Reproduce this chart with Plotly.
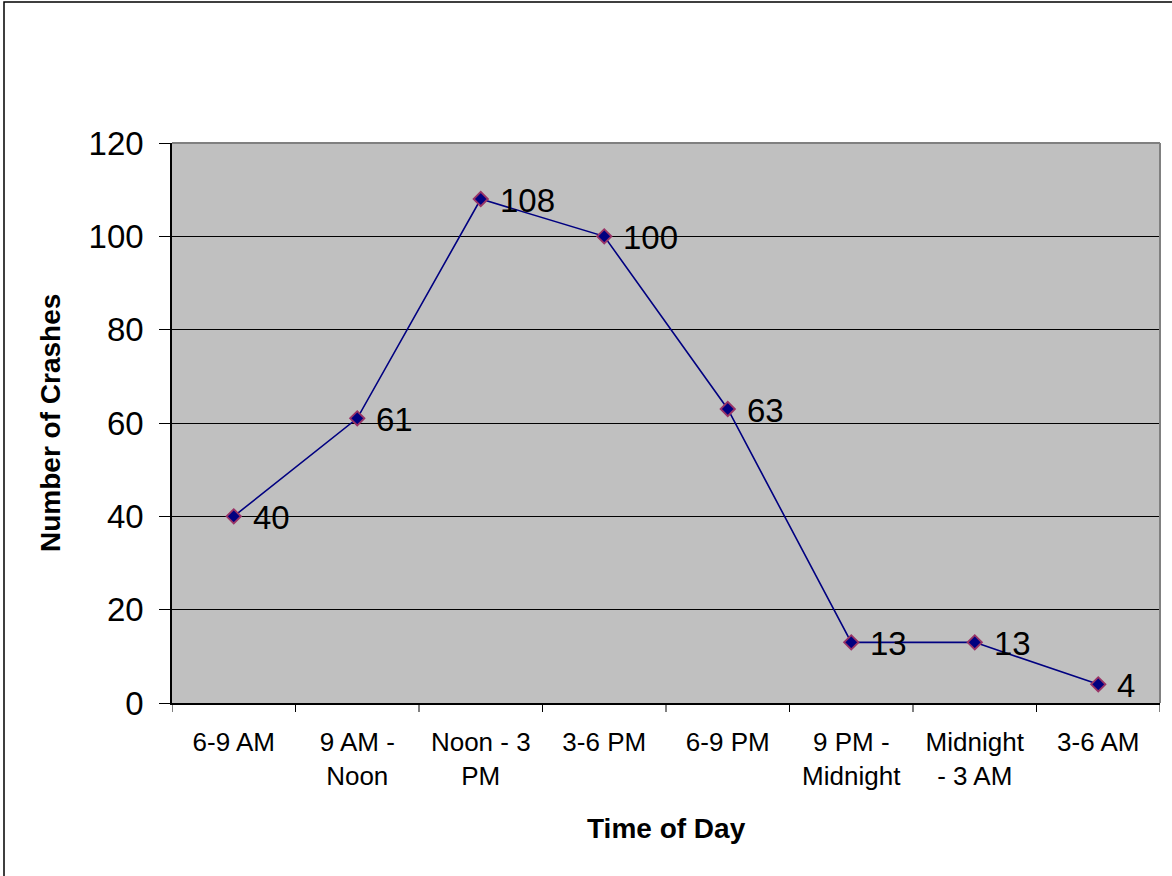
import plotly.graph_objects as go

categories = ["6-9 AM", "9 AM -<br>Noon", "Noon - 3<br>PM", "3-6 PM", "6-9 PM",
              "9 PM -<br>Midnight", "Midnight<br>- 3 AM", "3-6 AM"]
crashes = [40, 61, 108, 100, 63, 13, 13, 4]
y_ticks = [0, 20, 40, 60, 80, 100, 120]

W, H = 1172, 876
L, R, T, B = 172, 1160, 143, 703
FONT = "Liberation Sans, Arial"

fig = go.Figure()
fig.add_trace(go.Scatter(
    x=list(range(len(categories))), y=crashes,
    mode="lines+markers",
    line=dict(color="#000080", width=1.6),
    marker=dict(symbol="diamond", size=11, color="#000080",
                line=dict(color="#993366", width=1.8)),
    showlegend=False,
))

pw = R - L
ph = B - T

annotations = []
for i, v in enumerate(crashes):
    annotations.append(dict(x=i, y=v, xref="x", yref="y", text=str(v),
                            showarrow=False, xanchor="left", yanchor="middle",
                            xshift=17, yshift=-1,
                            font=dict(family=FONT, size=33, color="black")))
annotations.append(dict(x=(666 - L) / pw, y=(B - 828) / ph, xref="paper", yref="paper",
                        text="<b>Time of Day</b>", showarrow=False,
                        xanchor="center", yanchor="middle",
                        font=dict(family=FONT, size=28, color="black")))
annotations.append(dict(x=(50 - L) / pw, y=(B - 423) / ph, xref="paper", yref="paper",
                        text="<b>Number of Crashes</b>", showarrow=False, textangle=-90,
                        xanchor="center", yanchor="middle",
                        font=dict(family=FONT, size=28, color="black")))

fig.update_layout(
    width=W, height=H,
    margin=dict(l=L, r=W - R, t=T, b=H - B, pad=0),
    paper_bgcolor="white",
    plot_bgcolor="#C0C0C0",
    font=dict(family=FONT, color="black"),
    xaxis=dict(
        range=[-0.5, len(categories) - 0.5],
        tickmode="array",
        tickvals=list(range(len(categories))),
        ticktext=categories,
        showgrid=False, zeroline=False,
        showline=True, linecolor="black", linewidth=1.5,
        ticks="", tickfont=dict(size=26),
        ticklabelstandoff=15,
    ),
    yaxis=dict(
        range=[0, 120],
        tickvals=y_ticks,
        showgrid=True, gridcolor="black", gridwidth=1,
        zeroline=False,
        showline=True, linecolor="black", linewidth=1.5,
        ticks="outside", ticklen=11, tickcolor="black", tickwidth=1,
        tickfont=dict(size=33),
        ticklabelstandoff=9,
    ),
    annotations=annotations,
)

shapes = []
for i in range(len(categories) + 1):
    xb = -0.5 + i
    shapes.append(dict(type="line", xref="x", yref="paper",
                       x0=xb, x1=xb, y0=0, y1=-9 / ph,
                       line=dict(color="black", width=1)))
shapes.append(dict(type="line", xref="paper", yref="paper", x0=0, x1=1, y0=1, y1=1,
                   line=dict(color="#808080", width=2)))
shapes.append(dict(type="line", xref="paper", yref="paper", x0=1, x1=1, y0=0, y1=1,
                   line=dict(color="#808080", width=2)))
shapes.append(dict(type="rect", xref="paper", yref="paper",
                   x0=(4 - L) / pw, x1=(W + 5 - L) / pw,
                   y0=(B - (H + 5)) / ph, y1=(B - 2) / ph,
                   line=dict(color="black", width=1.5), fillcolor="rgba(0,0,0,0)"))
fig.update_layout(shapes=shapes)

fig.write_html("out.html", config={"displayModeBar": False},
               post_script="document.body.style.margin='0';")
